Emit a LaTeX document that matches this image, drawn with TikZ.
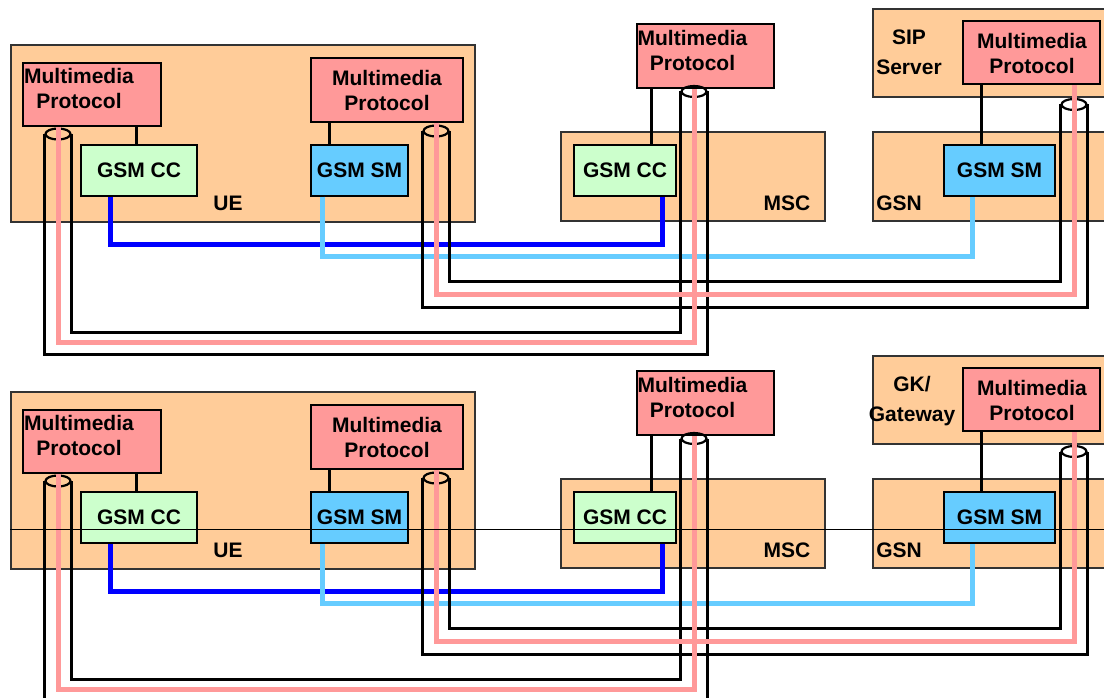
\documentclass[tikz,border=0pt]{standalone}
\usepackage{fontspec}
\setmainfont{Liberation Sans}
\usetikzlibrary{shapes.geometric}
\definecolor{hostbg}{HTML}{FFCC99}
\definecolor{mppink}{HTML}{FF9999}
\definecolor{ccgreen}{HTML}{CCFFCC}
\definecolor{smblue}{HTML}{66CCFF}
\definecolor{ccblue}{HTML}{0000FF}
\newcommand\lblfont{\fontsize{21}{25}\selectfont\bfseries}
\begin{document}
\begin{tikzpicture}[x=1pt,y=-1pt,
	host/.style={draw=black!80,line width=1.3pt,fill=hostbg,inner sep=0},
	mpbox/.style={draw,line width=1.5pt,fill=mppink,inner sep=0},
	ccbox/.style={draw,line width=1.5pt,fill=ccgreen,inner sep=0,font=\lblfont},
	smbox/.style={draw,line width=1.5pt,fill=smblue,inner sep=0,font=\lblfont},
	txt/.style={inner sep=0,align=center,font=\lblfont},
	tube/.style={draw,ellipse,line width=2.2pt,minimum width=25,minimum height=11,inner sep=0},
	link/.style={line width=3pt},
	wire/.style={line width=3pt},
	pwire/.style={line width=5pt,mppink},
	ccline/.style={line width=5pt,ccblue},
	smline/.style={line width=5pt,smblue}]
	\useasboundingbox (0,0) rectangle (1104,698);
	\clip (0,0) rectangle (1104,698);
	% upper half: SIP server
	\node[host,minimum width=464,minimum height=177] (ue) at (243,133.5) {};
	\node[host,minimum width=264,minimum height=89] (msc) at (693,176.5) {};
	\node[host,minimum width=237,minimum height=89] (gsn) at (991.5,176.5) {};
	\node[host,minimum width=237,minimum height=88] (sip) at (991.5,53) {};
	\node[txt] (uet) at (228,203.5) {UE};
	\node[txt] (msct) at (787,203.5) {MSC};
	\node[txt] (gsnt) at (899,203.5) {GSN};
	\node[txt] (sipt) at (909,52.5) {SIP\\[5pt]Server};
	\node[mpbox,minimum width=138,minimum height=63] (mp1) at (92,94.5) {};
	\node[mpbox,minimum width=152,minimum height=64] (mp2) at (387,90) {};
	\node[mpbox,minimum width=137,minimum height=64] (mp3) at (705.5,56) {};
	\node[mpbox,minimum width=137,minimum height=63] (mpsip) at (1031.5,52.5) {};
	\node[txt] (mp1t) at (79,88) {Multimedia\\Protocol};
	\node[txt] (mp2t) at (387,90) {Multimedia\\Protocol};
	\node[txt] (mp3t) at (692.5,50) {Multimedia\\Protocol};
	\node[txt] (mpsipt) at (1032,53) {Multimedia\\Protocol};
	\node[ccbox,minimum width=116,minimum height=51] (ccue) at (139,170.5) {GSM CC};
	\node[smbox,minimum width=97,minimum height=51] (smue) at (359.5,170.5) {GSM SM};
	\node[ccbox,minimum width=102,minimum height=51] (ccmsc) at (625,170.5) {GSM CC};
	\node[smbox,minimum width=111,minimum height=51] (smgsn) at (999.5,170.5) {GSM SM};
	\coordinate (k1) at ([xshift=56]ccue.north west);
	\coordinate (k2) at ([xshift=19]mp2.south west);
	\coordinate (k3) at ([xshift=15]mp3.south west);
	\coordinate (k4) at ([xshift=19]mpsip.south west);
	\draw[link] (k1) -- (k1 |- mp1.south);
	\draw[link] (k2) -- (k2 |- smue.north);
	\draw[link] (k3) -- (k3 |- ccmsc.north);
	\draw[link] (k4) -- (k4 |- smgsn.north);
	\draw[ccline] ([xshift=30]ccue.south west) -- ++(0,48) -| ([xshift=-14]ccmsc.south east);
	\draw[smline] ([xshift=12]smue.south west) -- ++(0,60) -| ([xshift=29]smgsn.south west);
	\node[tube] (t1) at (58,134) {};
	\node[tube] (t2) at (436,131) {};
	\node[tube] (t3) at (694,91.5) {};
	\node[tube] (t4) at (1074,104.5) {};
	\draw[wire] (t1.east) -- ++(0,198) -| (t3.west);
	\draw[wire] (t1.west) -- ++(0,220) -| (t3.east);
	\draw[wire] (t2.east) -- ++(0,150) -| (t4.west);
	\draw[wire] (t2.west) -- ++(0,176) -| (t4.east);
	\draw[pwire] (t1 |- mp1.south) -- ++(0,216) -| (t3 |- mp3.south);
	\draw[pwire] (t2 |- mp2.south) -- ++(0,172) -| (t4 |- mpsip.south);
	% lower half: GK/Gateway
	\node[host,minimum width=464,minimum height=177] (ueb) at (243,480.5) {};
	\node[host,minimum width=264,minimum height=89] (mscb) at (693,523.5) {};
	\node[host,minimum width=237,minimum height=89] (gsnb) at (991.5,523.5) {};
	\node[host,minimum width=237,minimum height=88] (gk) at (991.5,400) {};
	\node[txt] (uebt) at (228,550.5) {UE};
	\node[txt] (mscbt) at (787,550.5) {MSC};
	\node[txt] (gsnbt) at (899,550.5) {GSN};
	\node[txt] (gkt) at (912,401) {GK/\\[5pt]Gateway};
	\node[mpbox,minimum width=138,minimum height=63] (mp1b) at (92,441.5) {};
	\node[mpbox,minimum width=152,minimum height=64] (mp2b) at (387,437) {};
	\node[mpbox,minimum width=137,minimum height=64] (mp3b) at (705.5,403) {};
	\node[mpbox,minimum width=137,minimum height=63] (mpgk) at (1031.5,399.5) {};
	\node[txt] (mp1bt) at (79,435) {Multimedia\\Protocol};
	\node[txt] (mp2bt) at (387,437) {Multimedia\\Protocol};
	\node[txt] (mp3bt) at (692.5,397) {Multimedia\\Protocol};
	\node[txt] (mpgkt) at (1032,400) {Multimedia\\Protocol};
	\node[ccbox,minimum width=116,minimum height=51] (ccueb) at (139,517.5) {GSM CC};
	\node[smbox,minimum width=97,minimum height=51] (smueb) at (359.5,517.5) {GSM SM};
	\node[ccbox,minimum width=102,minimum height=51] (ccmscb) at (625,517.5) {GSM CC};
	\node[smbox,minimum width=111,minimum height=51] (smgsnb) at (999.5,517.5) {GSM SM};
	\coordinate (k1b) at ([xshift=56]ccueb.north west);
	\coordinate (k2b) at ([xshift=19]mp2b.south west);
	\coordinate (k3b) at ([xshift=15]mp3b.south west);
	\coordinate (k4b) at ([xshift=19]mpgk.south west);
	\draw[link] (k1b) -- (k1b |- mp1b.south);
	\draw[link] (k2b) -- (k2b |- smueb.north);
	\draw[link] (k3b) -- (k3b |- ccmscb.north);
	\draw[link] (k4b) -- (k4b |- smgsnb.north);
	\draw[ccline] ([xshift=30]ccueb.south west) -- ++(0,48) -| ([xshift=-14]ccmscb.south east);
	\draw[smline] ([xshift=12]smueb.south west) -- ++(0,60) -| ([xshift=29]smgsnb.south west);
	\node[tube] (t1b) at (58,481) {};
	\node[tube] (t2b) at (436,478) {};
	\node[tube] (t3b) at (694,438.5) {};
	\node[tube] (t4b) at (1074,451.5) {};
	\draw[wire] (t1b.east) -- ++(0,198) -| (t3b.west);
	\draw[wire] (t1b.west) -- ++(0,220) -| (t3b.east);
	\draw[wire] (t2b.east) -- ++(0,150) -| (t4b.west);
	\draw[wire] (t2b.west) -- ++(0,176) -| (t4b.east);
	\draw[pwire] (t1b |- mp1b.south) -- ++(0,216) -| (t3b |- mp3b.south);
	\draw[pwire] (t2b |- mp2b.south) -- ++(0,172) -| (t4b |- mpgk.south);
	% stray rule across the lower half
	\coordinate (hl) at (10,529);
	\coordinate (hr) at (1104,529);
	\draw[line width=0.8pt] (hl) -- (hr);
\end{tikzpicture}
\end{document}
